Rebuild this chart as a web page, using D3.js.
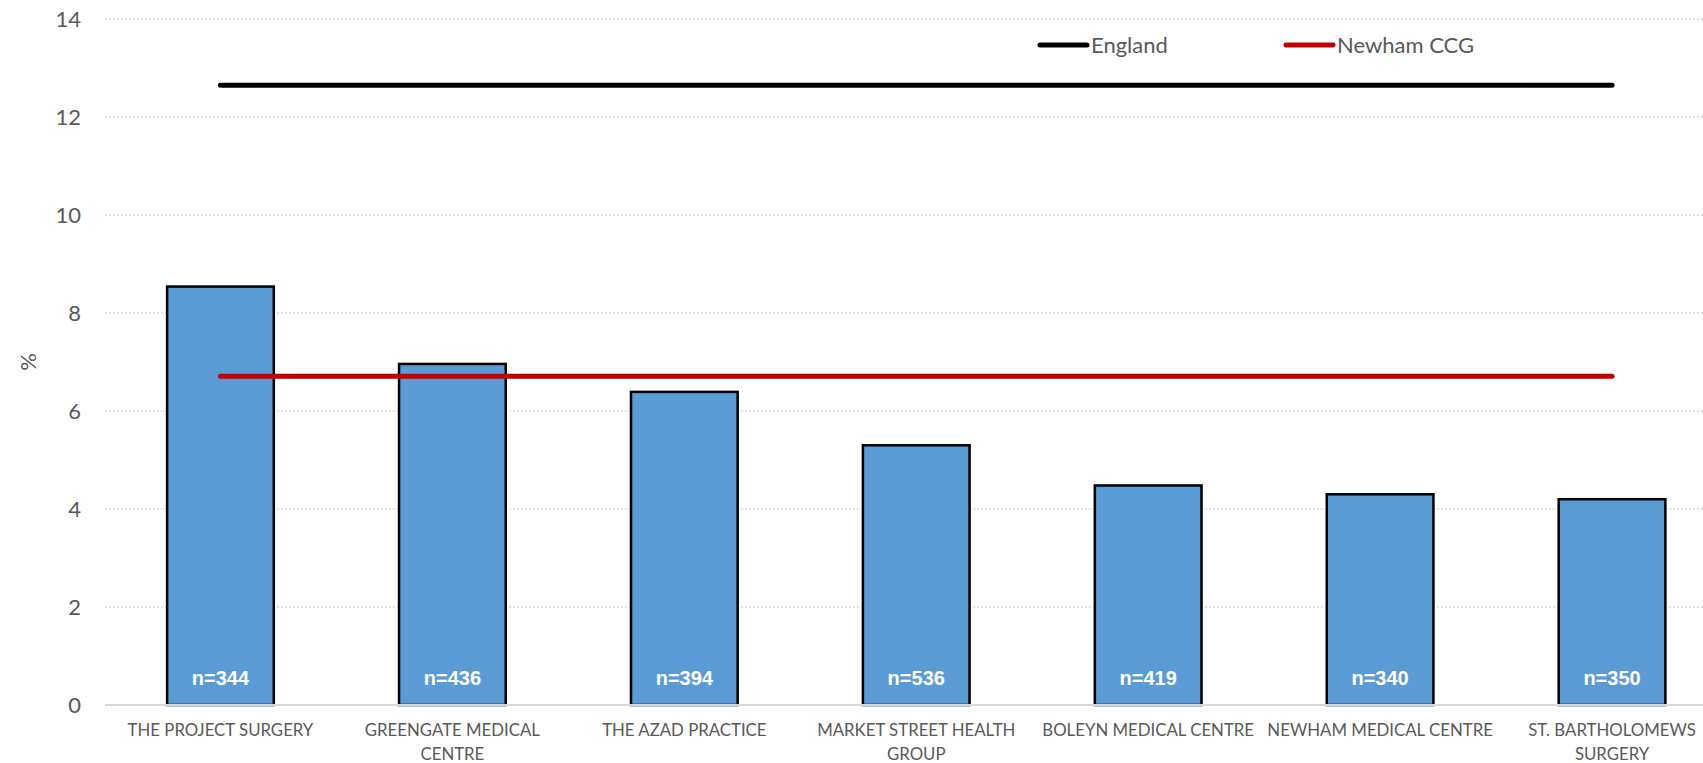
<!DOCTYPE html>
<html><head><meta charset="utf-8">
<script src="https://cdn.jsdelivr.net/npm/d3@7"></script>
<style>body{margin:0;background:#fff;overflow:hidden}svg{display:block}</style>
</head><body>
<svg id="c" width="1703" height="763"></svg>
<script>
const categories = ["THE PROJECT SURGERY","GREENGATE MEDICAL CENTRE","THE AZAD PRACTICE","MARKET STREET HEALTH GROUP","BOLEYN MEDICAL CENTRE","NEWHAM MEDICAL CENTRE","ST. BARTHOLOMEWS SURGERY"];
const values = [8.54, 6.96, 6.39, 5.3, 4.48, 4.3, 4.2];
const sampleSizes = ["n=344","n=436","n=394","n=536","n=419","n=340","n=350"];
const englandValue = 12.65;
const ccgValue = 6.71;
const yTicks = [0,2,4,6,8,10,12,14];
const legendLabels = ["England","Newham CCG"];

const svg = d3.select("#c");
const font = "Lato, 'Open Sans', sans-serif";
const x = d3.scaleBand().domain(categories).range([104.5, 1728]).paddingInner(0.54).paddingOuter(0.27);
const y = d3.scaleLinear().domain([0,14]).range([705, 19]);

// gridlines
svg.append("g").selectAll("line").data(yTicks.filter(d=>d>0)).join("line")
  .attr("x1",105).attr("x2",1728).attr("y1",d=>y(d)).attr("y2",d=>y(d))
  .attr("stroke","#d9d9d9").attr("stroke-width",1.5).attr("stroke-dasharray","2,2");

// y axis labels
const yAxis = d3.axisLeft(y).tickValues(yTicks).tickSize(0).tickPadding(0);
const yg = svg.append("g").attr("transform","translate(81,0)").call(yAxis);
yg.select(".domain").remove();
yg.selectAll("text").attr("font-family",font).attr("font-size",22).attr("fill","#595959").attr("dy","0.35em");

svg.append("text").attr("transform","translate(36,362) rotate(-90)").attr("text-anchor","middle")
  .attr("font-family",font).attr("font-size",22).attr("fill","#595959").text("%");

// bars
svg.append("g").selectAll("rect").data(values).join("rect")
  .attr("x",(d,i)=>x(categories[i])).attr("width",x.bandwidth())
  .attr("y",d=>y(d)).attr("height",d=>y(0)-y(d))
  .attr("fill","#5b9bd5").attr("stroke","#000").attr("stroke-width",2.5);

// n labels
svg.append("g").selectAll("text").data(sampleSizes).join("text")
  .attr("x",(d,i)=>x(categories[i])+x.bandwidth()/2).attr("y",685)
  .attr("text-anchor","middle").attr("font-family","'Liberation Sans', Arial, sans-serif")
  .attr("font-weight","bold").attr("font-size",20).attr("fill","#fff").text(d=>d);

// x axis baseline
svg.append("line").attr("x1",105).attr("x2",1728).attr("y1",y(0)).attr("y2",y(0))
  .attr("stroke","#d9d9d9").attr("stroke-width",2);

// x labels with wrapping
const xAxis = d3.axisBottom(x).tickSize(0).tickPadding(0);
const xg = svg.append("g").attr("transform",`translate(0,${y(0)})`).call(xAxis);
xg.select(".domain").remove();
xg.selectAll("text").attr("font-family",font).attr("font-size",16.8).attr("fill","#595959")
  .attr("y",0).attr("dy",null)
  .each(function(d){
    const t = d3.select(this); const words = d.split(" "); t.text(null);
    let lines=[], cur=[];
    const tmp = t.append("tspan");
    words.forEach(w=>{ cur.push(w); tmp.text(cur.join(" ")); if(tmp.node().getComputedTextLength()>230 && cur.length>1){cur.pop(); lines.push(cur.join(" ")); cur=[w];} });
    lines.push(cur.join(" ")); tmp.remove();
    lines.forEach((l,i)=>t.append("tspan").attr("x",0).attr("y",31+i*24).text(l));
  });

// lines
const c0 = x(categories[0])+x.bandwidth()/2, c1 = x(categories[categories.length-1])+x.bandwidth()/2;
svg.append("line").attr("x1",c0).attr("x2",c1).attr("y1",y(englandValue)).attr("y2",y(englandValue))
  .attr("stroke","#000").attr("stroke-width",5).attr("stroke-linecap","round");
svg.append("line").attr("x1",c0).attr("x2",c1).attr("y1",y(ccgValue)).attr("y2",y(ccgValue))
  .attr("stroke","#c00000").attr("stroke-width",5).attr("stroke-linecap","round");

// legend
const lg = svg.append("g");
const legColors = ["#000","#c00000"], legX=[1040,1286];
legendLabels.forEach((l,i)=>{
  lg.append("line").attr("x1",legX[i]).attr("x2",legX[i]+47).attr("y1",45).attr("y2",45)
    .attr("stroke",legColors[i]).attr("stroke-width",5).attr("stroke-linecap","round");
  lg.append("text").attr("x",legX[i]+51).attr("y",45).attr("dy","0.35em")
    .attr("font-family",font).attr("font-size",22).attr("fill","#595959").text(l);
});
</script>
</body></html>
